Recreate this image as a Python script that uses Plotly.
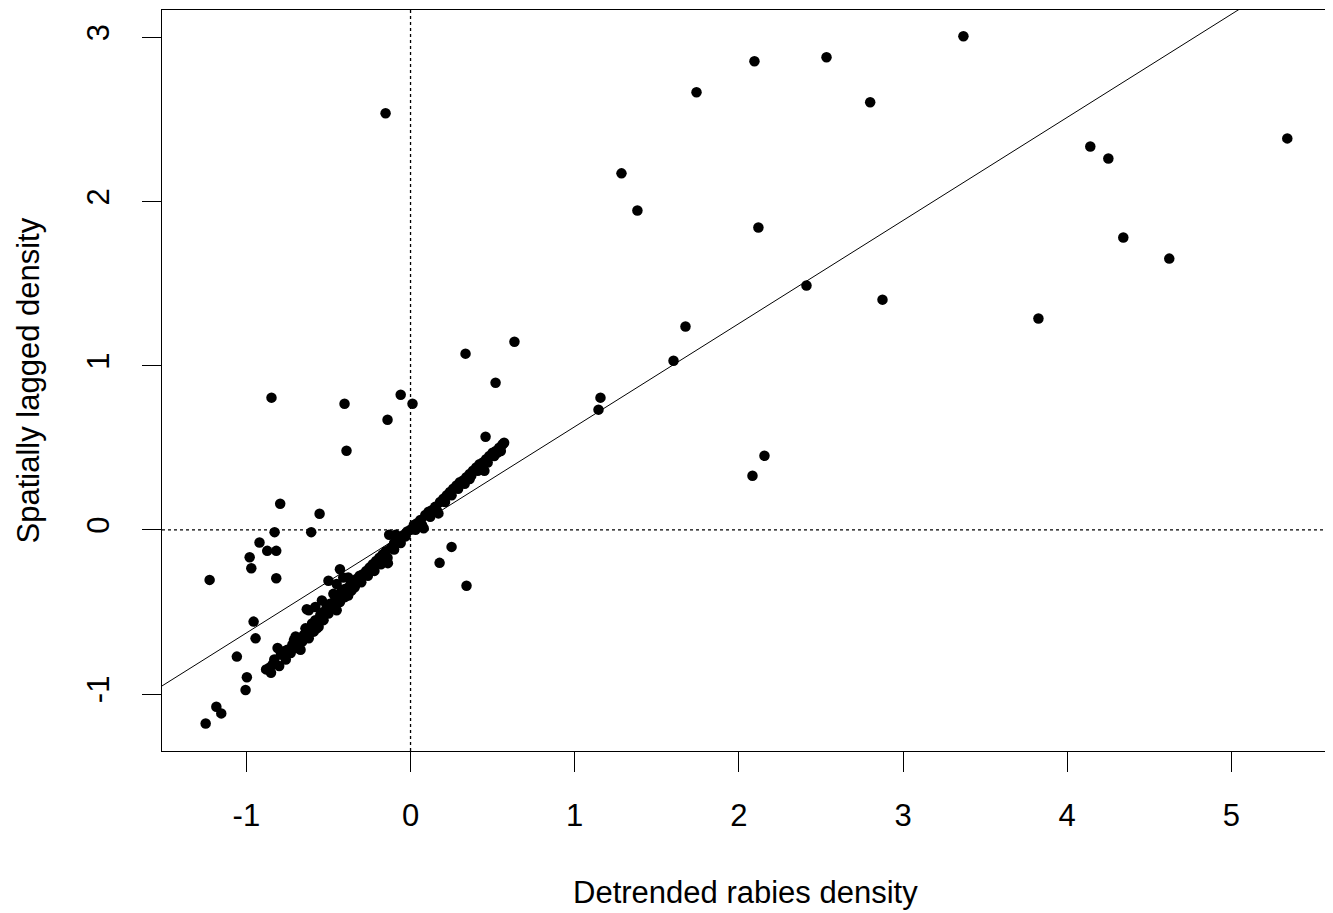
import plotly.graph_objects as go

# Outlying points (x = detrended density, y = spatially lagged density)
outlier_x = [-0.152, 2.095, 2.534, 3.368, 1.742, 2.800, 1.285, 1.382, 2.119, 5.341,
             4.141, 4.251, 4.342, 4.622, 3.825, 2.875, 2.412, 1.675, 1.602, 1.157,
             1.145, 2.083, 2.156,
             -0.847, -0.402, -0.390, -0.140, -0.060, 0.012, 0.335, 0.633, 0.518, 0.457,
             0.250, 0.177, 0.341,
             -0.794, -0.554, -0.828, -0.605, -0.920, -0.873, -0.818, -0.980, -0.970,
             -0.818, -1.224, -0.956, -0.944, -1.058, -0.997, -1.005, -1.183, -1.153,
             -1.248, -0.632, -0.138]
outlier_y = [2.537, 2.854, 2.878, 3.006, 2.665, 2.604, 2.171, 1.945, 1.841, 2.384,
             2.335, 2.262, 1.780, 1.652, 1.287, 1.402, 1.488, 1.238, 1.030, 0.805,
             0.732, 0.329, 0.451,
             0.805, 0.768, 0.482, 0.670, 0.823, 0.768, 1.073, 1.146, 0.896, 0.567,
             -0.104, -0.201, -0.341,
             0.159, 0.098, -0.014, -0.014, -0.077, -0.128, -0.128, -0.167, -0.234,
             -0.295, -0.305, -0.559, -0.661, -0.772, -0.898, -0.976, -1.077, -1.118,
             -1.179, -0.484, -0.203]

# Dense band of points near the diagonal (upper edge)
band_x = [-0.88, -0.86, -0.84, -0.83, -0.81, -0.79, -0.77, -0.75, -0.72, -0.70,
          -0.68, -0.67, -0.65, -0.63, -0.62, -0.60, -0.58, -0.57, -0.55, -0.54,
          -0.53, -0.51, -0.50, -0.49, -0.47, -0.46, -0.44, -0.43, -0.42, -0.40,
          -0.38, -0.37, -0.35, -0.33, -0.31, -0.29, -0.27, -0.25, -0.23, -0.21,
          -0.19, -0.17, -0.15, -0.13, -0.12, -0.10, -0.08, -0.06, -0.04, -0.02,
          0.00, 0.02, 0.04, 0.06, 0.08, 0.09, 0.11, 0.13, 0.15, 0.17,
          0.18, 0.20, 0.22, 0.24, 0.26, 0.28, 0.30, 0.32, 0.34, 0.36,
          0.38, 0.40, 0.42, 0.44, 0.45, 0.46, 0.48, 0.50, 0.52, 0.54,
          0.56, 0.57]
band_y = [-0.85, -0.84, -0.82, -0.79, -0.72, -0.76, -0.74, -0.73, -0.70, -0.65,
          -0.66, -0.73, -0.64, -0.62, -0.49, -0.57, -0.55, -0.60, -0.52, -0.43,
          -0.50, -0.47, -0.31, -0.45, -0.39, -0.43, -0.41, -0.24, -0.37, -0.36,
          -0.29, -0.34, -0.33, -0.30, -0.28, -0.27, -0.25, -0.23, -0.21, -0.19,
          -0.17, -0.15, -0.13, -0.03, -0.11, -0.08, -0.07, -0.05, -0.03, -0.01,
          0.00, 0.03, 0.04, 0.06, 0.01, 0.09, 0.11, 0.12, 0.14, 0.10,
          0.17, 0.19, 0.21, 0.23, 0.25, 0.27, 0.29, 0.30, 0.32, 0.34,
          0.36, 0.38, 0.40, 0.41, 0.36, 0.43, 0.45, 0.47, 0.48, 0.50,
          0.52, 0.53]

# Dense band (lower edge, thickening the cloud)
band2_x = [-0.85, -0.80, -0.76, -0.73, -0.69, -0.66, -0.62, -0.59, -0.56, -0.53,
           -0.50, -0.47, -0.45, -0.43, -0.40, -0.38, -0.36, -0.34, -0.30, -0.26,
           -0.22, -0.18, -0.14, -0.10, -0.06, -0.09, -0.03, 0.03, 0.07, 0.12,
           0.16, 0.21, 0.25, 0.29, 0.33, 0.37, 0.41, 0.47, 0.51, 0.55,
           -0.58, -0.45, -0.41, 0.36, -0.71, -0.64, 0.44, 0.53]
band2_y = [-0.87, -0.83, -0.79, -0.75, -0.72, -0.68, -0.66, -0.62, -0.59, -0.55,
           -0.51, -0.47, -0.49, -0.44, -0.41, -0.40, -0.37, -0.35, -0.32, -0.28,
           -0.25, -0.21, -0.17, -0.12, -0.08, -0.03, -0.04, 0.00, 0.03, 0.08,
           0.12, 0.17, 0.21, 0.25, 0.28, 0.33, 0.36, 0.41, 0.45, 0.48,
           -0.47, -0.33, -0.29, 0.31, -0.67, -0.60, 0.38, 0.47]

# Fitted regression line (Moran scatterplot slope, intercept ~0)
fit_slope = 0.628
fit_intercept = 0.0
fit_x = [-1.6, 5.7]
fit_y = [fit_intercept + fit_slope * v for v in fit_x]

x_ticks = [-1, 0, 1, 2, 3, 4, 5]
y_ticks = [-1, 0, 1, 2, 3]
x_range = [-1.514, 5.595]
y_range = [-1.347, 3.166]

FONT = "Liberation Sans, Arial, sans-serif"
FS = 31

fig = go.Figure()
fig.add_trace(go.Scatter(x=fit_x, y=fit_y, mode="lines",
                         line=dict(color="black", width=1), hoverinfo="skip"))
fig.add_trace(go.Scatter(x=band_x + band2_x + outlier_x,
                         y=band_y + band2_y + outlier_y, mode="markers",
                         marker=dict(color="black", size=10.5, line=dict(width=0))))

# dotted reference lines at 0
fig.add_shape(type="line", xref="x", yref="paper", x0=0, x1=0, y0=0, y1=1,
              line=dict(color="black", width=1.3, dash="3px,3px"))
fig.add_shape(type="line", xref="paper", yref="y", x0=0, x1=1, y0=0, y1=0,
              line=dict(color="black", width=1.3, dash="3px,3px"))

fig.update_layout(
    width=1325, height=905,
    margin=dict(l=154, r=4, t=2, b=162),
    paper_bgcolor="white", plot_bgcolor="white",
    showlegend=False,
    font=dict(family=FONT, size=FS, color="black"),
    xaxis=dict(range=x_range, tickvals=x_ticks, ticktext=[str(v) for v in x_ticks],
               showgrid=False, zeroline=False, showline=True, mirror=True,
               linecolor="black", linewidth=1.3, ticks="outside", ticklen=20,
               tickwidth=1.2, tickcolor="black", ticklabelstandoff=17,
               tickfont=dict(family=FONT, size=FS, color="black")),
    yaxis=dict(range=y_range, tickvals=y_ticks, ticktext=[str(v) for v in y_ticks],
               showgrid=False, zeroline=False, showline=True, mirror=True,
               linecolor="black", linewidth=1.3, ticks="outside", ticklen=19,
               tickwidth=1.2, tickcolor="black", tickangle=-90,
               ticklabelstandoff=20,
               tickfont=dict(family=FONT, size=FS, color="black")),
    annotations=[
        dict(text="Detrended rabies density", xref="paper", yref="paper",
             x=0.5, y=0, yshift=-141, xanchor="center", yanchor="middle",
             showarrow=False, font=dict(family=FONT, size=FS, color="black")),
        dict(text="Spatially lagged density", xref="paper", yref="paper",
             x=0, y=0.5, xshift=-134, xanchor="center", yanchor="middle",
             textangle=-90, showarrow=False,
             font=dict(family=FONT, size=FS, color="black")),
    ],
)

fig.write_html("out.html")
